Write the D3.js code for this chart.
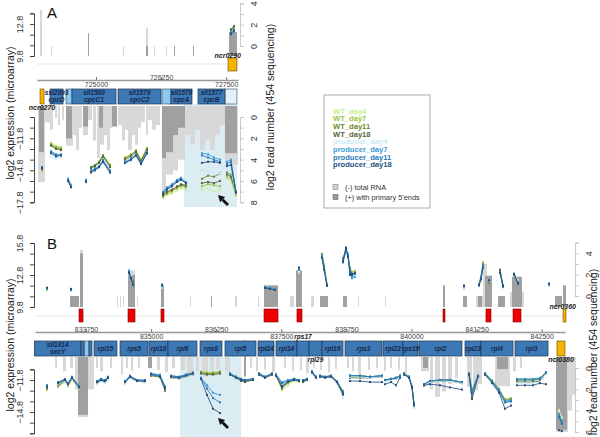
<!DOCTYPE html>
<html><head><meta charset="utf-8">
<script src="https://cdn.jsdelivr.net/npm/d3@7"></script>
<style>body{margin:0;background:#fff}svg{display:block;font-family:"Liberation Sans",Arial,sans-serif}</style>
</head><body><svg id="c" width="600" height="437"></svg>
<script>
// ---------------- DATA ----------------
const seriesNames = ["WT_day4","WT_day7","WT_day11","WT_day18","producer_day4","producer_day7","producer_day11","producer_day18"];
const seriesColors = ["#c8ee88","#9dc43f","#6e8a2c","#55663a","#c9e9f8","#3d9ad9","#2a79ba","#25507e"];
const barTypes = ["(-) total RNA","(+) with primary 5'ends"];

// tick values / labels
const aGenomeTicks = [725000, 726250, 727500];
const bGenomeTicks = [833750, 835000, 836250, 837500, 838750, 840000, 841250, 842500];
const aTopExprTicks = [9.8, 10.8, 11.8, 12.8, 13.8], aTopExprLabels = [9.8, 12.8];
const aTopReadTicks = [0, 1, 2, 3, 4], aTopReadLabels = [0, 2, 4];
const aBotExprTicks = [-9.8, -10.8, -11.8, -12.8, -13.8, -14.8, -15.8, -16.8, -17.8], aBotExprLabels = [-11.8, -14.8, -17.8];
const aBotReadTicks = [0, 1, 2, 3, 4, 5, 6, 7, 8], aBotReadLabels = [0, 2, 4, 6, 8];
const bTopExprTicks = [9.8, 10.8, 11.8, 12.8, 13.8, 14.8, 15.8], bTopExprLabels = [9.8, 12.8, 15.8];
const bTopReadTicks = [0, 1, 2, 3, 4, 5], bTopReadLabels = [0, 2, 4];
const bBotExprTicks = [-10.8, -11.8, -12.8, -13.8, -14.8, -15.8, -16.8], bBotExprLabels = [-11.8, -14.8];
const bBotReadTicks = [0, 1, 2, 3, 4, 5, 6], bBotReadLabels = [0, 2, 4, 6];

// genes [start, end, name, product]
const aGenes = [
 [724117,724367,"ssl2093","cpcD"],
 [724539,725384,"sll1580","cpcC1"],
 [725423,726248,"sll1579","cpcC2"],
 [726440,726843,"sll1578","cpcA"],
 [726959,727477,"sll1577","cpcB"]
];
const aUtrs = [[724424,724539,"light"],[726267,726440,"light"],[727477,727707,"pale"]];
const aOrange = [[723925,724002,"ncr0270","gene"],[727535,727707,"ncr0290","nc"]];
const aRed = [];
const aShade = [726690, 727707];
const aArrow = [727535, -18.06, 727343, -17.12];

const bGenes = [
 [832760,833654,"sll1814","secY"],
 [833654,833712,"",""],
 [833808,833865,"",""],
 [833904,834345,"rpl15",""],
 [834403,834941,"rps5",""],
 [834960,835325,"rpl18",""],
 [835325,835881,"rpl6",""],
 [835939,836361,"rps8",""],
 [836419,837014,"rpl5",""],
 [837053,837360,"rpl24",""],
 [837398,837801,"rpl14",""],
 [837801,838032,"rps17",""],
 [838032,838281,"rpl29",""],
 [838281,838685,"rpl16",""],
 [838723,839433,"rps3",""],
 [839453,839837,"rpl22",""],
 [839837,840125,"rps19",""],
 [840144,840969,"rpl2",""],
 [841027,841334,"rpl23",""],
 [841334,841949,"rpl4",""],
 [841987,842621,"rpl3",""]
];
const bOutsideLabels = {"rps17":"above","rpl29":"below"};
const bUtrs = [[833712,833808,"light"],[836784,836822,"light"]];
const bOrange = [[842793,842947,"ncl0380","gene"],[842909,842966,"ncr0360","nc"]];
const bRed = [[833616,833693],[834557,834691],[835190,835248],[837168,837437],[837801,837897],[840605,840643],[841430,841526],[841949,842102]];
const bShade = [835555, 836726];
const bArrow = [836477, -16.3, 836285, -15.36];

// read coverage bars [start, end, log2 reads, type 0=total 1=primary]
const aTopBars = [
 [723925,723963,3.4,0],[724136,724155,0,0],[724847,724866,1.2,1],[725519,725538,0,0],
 [725960,725999,1.7,0],[725960,725999,0,1],[726114,726133,0,0],[726344,726363,0,0],
 [726498,726517,0,1],[726863,726882,0,1],[727554,727707,1.3,1]
];
const aBotBars = [
 [723887,724021,6.1,0],[723906,724002,3.3,1],[724021,724117,0.5,0],[724117,724175,1.2,0],
 [724213,724251,0.1,0],[724271,724309,0.75,0],[724347,724386,0.3,0],[724424,724559,2.7,0],
 [724424,724539,2.0,1],[724559,724616,1.7,0],[724616,724674,3.1,0],[724674,724731,1.0,0],
 [724751,724847,1.7,0],[724751,724847,0.9,1],[724847,724923,0.3,0],[724943,725000,2.2,0],
 [725019,725077,3.85,0],[725058,725135,1.0,1],[725077,725154,2.6,0],[725154,725211,1.7,0],
 [725211,725269,3.1,0],[725269,725307,1.0,0],[725307,725403,0.9,1],[725423,725499,0.75,0],
 [725499,725557,2.2,0],[725557,725615,1.2,0],[725615,725691,3.1,0],[725691,725749,1.7,0],
 [725749,725807,2.6,0],[725807,725864,1.0,0],[725864,725941,0.5,0],[725960,725999,1.7,0],
 [725999,726075,0.3,0],[726075,726152,1.2,0],[726152,726229,0.75,0],[726267,726344,6.85,0],
 [726267,726344,3.85,1],[726344,726479,5.4,0],[726344,726479,3.3,1],[726479,726575,5.0,0],
 [726479,726575,1.7,1],[726575,726709,4.0,0],[726575,726709,1.0,1],[726709,726805,1.7,0],
 [726805,726901,2.6,0],[726901,726997,1.2,0],[726997,727093,3.1,0],[727093,727189,2.2,0],
 [727189,727285,3.1,0],[727285,727381,1.7,0],[727381,727477,0.75,0],[727477,727727,4.5,0],
 [727477,727707,3.4,1]
];
const bTopBars = [
 [833443,833616,0,1],[833635,833693,4.3,0],[833635,833693,4.0,1],
 [834345,834365,0,0],[834403,834422,0,0],[834461,834480,0,0],[834729,834749,0,0],
 [834557,834691,2.4,0],[834557,834691,1.95,1],[835190,835248,1.0,1],
 [835747,835766,0,0],[836150,836169,0,1],[836611,836649,0,0],[837053,837072,0,0],
 [837168,837437,1.0,1],[837667,837744,0,0],[837782,837897,2.4,1],
 [838070,838128,0,0],[838243,838397,0,1],[838685,838761,0,1],[838973,838992,0,0],[839491,839510,0,0],
 [840605,840643,1.0,1],[840989,841065,0,1],[841238,841545,0,0],[841277,841353,0,1],
 [841373,841449,3.0,0],[841411,841545,1.9,1],[841661,841795,0,1],
 [841891,842160,0.4,0],[841929,842121,1.8,1],[842755,842889,0,1],[842909,842966,1.0,1]
];
const bBotBars = [
 [833155,833193,0,0],[833309,833366,0.3,0],[833443,833501,0,0],
 [833539,833904,2.0,0],[833597,833789,4.6,0],[833597,833789,4.4,1],
 [833942,833981,0,0],[834019,834077,0.3,0],[834211,834249,0,0],[834422,834461,0.6,0],
 [834518,834557,0,0],[834614,834653,0.3,0],[834749,834787,0,0],[834941,835017,0,1],
 [835113,835171,0.2,0],[835267,835325,0.4,0],[835401,835459,0,0],[835574,835651,0.2,0],
 [835689,835805,0.5,0],[835862,835920,0.3,0],[835977,836093,0.8,0],[836131,836208,0.3,0],
 [836246,836323,0.1,0],[836419,836515,0.3,0],[836784,836822,0.8,1],[836899,836937,0,0],
 [837014,837053,0.3,0],[837168,837206,0.2,0],[837321,837379,0.4,0],[837552,837590,0,0],
 [837705,837744,0.3,0],[837859,837897,0.2,0],[837974,838032,0.5,0],[838109,838147,0,0],
 [838243,838281,0.2,0],[838397,838435,0.4,0],[838531,838569,0.1,0],[838761,838800,0,0],
 [838857,838896,0.3,0],[838973,839030,0.5,0],[839165,839203,0.2,0],[839318,839357,0,0],
 [839472,839510,0.3,0],[839587,839625,0,0],[839741,839779,0.2,0],[839875,839913,0.5,0],
 [840182,840336,0.3,0],[840221,840317,0,1],[840355,840413,2.0,0],[840451,840547,2.7,0],
 [840585,840662,2.2,0],[840701,840777,1.5,0],[840835,840893,1.0,0],[841065,841161,1.8,0],
 [841181,841277,2.1,0],[841277,841353,1.5,0],[841603,841891,1.7,0],[841641,841853,0.1,1],
 [841949,842006,0.3,0],[842083,842121,0,0],[842774,843005,6.0,0],[842774,842985,5.8,1],
 [843005,843081,4.0,0],[843081,843158,2.5,0]
];

// microarray probes [group, position, WT4, WT7, WT11, WT18, P4, P7, P11, P18]
const aTopExpr = [
 [1,727592,12.0,12.1,12.2,12.3,11.9,12.0,11.8,11.9],
 [1,727650,12.4,12.5,12.6,12.6,12.2,12.3,12.1,12.2]
];
const aBotExpr = [
 [1,723963,-14.9,-14.8,-14.7,-14.6,-14.4,-14.5,-14.5,-14.6],
 [2,724136,-12.2,-12.3,-12.4,-12.5,-13.5,-13.0,-13.1,-13.2],
 [2,724232,-12.5,-12.6,-12.7,-12.8,-13.7,-13.3,-13.4,-13.5],
 [2,724328,-12.6,-12.7,-12.8,-12.9,-13.6,-13.3,-13.4,-13.4],
 [3,724463,-15.6,-15.6,-15.7,-15.7,-15.5,-15.6,-15.7,-15.8],
 [3,724520,-16.2,-16.2,-16.3,-16.3,-16.1,-16.2,-16.3,-16.4],
 [4,724808,-15.7,-15.8,-15.8,-15.9,-15.6,-15.7,-15.8,-15.9],
 [5,724904,-14.6,-14.5,-14.5,-14.6,-15.0,-14.8,-14.9,-15.0],
 [5,724981,-14.4,-14.3,-14.3,-14.4,-14.8,-14.6,-14.7,-14.8],
 [5,725058,-14.1,-14.0,-14.0,-14.1,-14.6,-14.4,-14.5,-14.5],
 [5,725135,-13.5,-13.4,-13.4,-13.5,-14.1,-13.8,-13.9,-14.0],
 [5,725269,-14.4,-14.3,-14.3,-14.5,-15.1,-14.8,-14.9,-15.0],
 [6,725557,-13.6,-13.6,-13.7,-13.8,-14.2,-14.0,-14.1,-14.1],
 [6,725672,-13.3,-13.3,-13.4,-13.5,-13.9,-13.7,-13.8,-13.8],
 [6,725768,-13.0,-12.9,-13.0,-13.1,-13.5,-13.3,-13.4,-13.4],
 [6,725864,-13.9,-13.8,-13.9,-14.0,-14.3,-14.1,-14.2,-14.2],
 [6,725979,-12.8,-12.7,-12.8,-12.9,-13.3,-13.1,-13.2,-13.2],
 [7,726287,-17.4,-17.3,-17.2,-17.1,-16.9,-16.8,-16.9,-17.0],
 [7,726363,-17.1,-17.0,-16.9,-16.8,-16.5,-16.4,-16.5,-16.6],
 [7,726459,-17.0,-16.8,-16.7,-16.6,-16.3,-16.1,-16.2,-16.3],
 [7,726555,-16.7,-16.5,-16.4,-16.3,-15.9,-15.7,-15.8,-15.9],
 [7,726632,-16.5,-16.3,-16.2,-16.1,-15.7,-15.5,-15.6,-15.7],
 [7,726728,-16.6,-16.4,-16.3,-16.2,-16.0,-15.9,-16.0,-16.0],
 [8,727035,-16.65,-16.3,-15.6,-16.0,-14.8,-13.2,-13.4,-14.1],
 [8,727151,-16.5,-16.1,-15.3,-15.9,-14.9,-13.3,-13.6,-14.0],
 [8,727266,-16.8,-16.2,-15.4,-16.0,-15.0,-13.6,-13.8,-14.0],
 [8,727381,-16.6,-16.3,-15.1,-15.8,-15.1,-13.8,-14.0,-14.1],
 [9,727515,-15.6,-15.4,-15.0,-15.2,-14.6,-14.0,-14.2,-14.4],
 [9,727592,-15.9,-15.6,-15.2,-15.4,-14.8,-13.8,-14.0,-14.3],
 [9,727688,-17.2,-17.1,-17.0,-16.9,-17.0,-16.9,-16.8,-16.9]
];
const bTopExpr = [
 [1,833001,11.4,11.4,11.5,11.5,11.5,11.5,11.6,11.6],
 [2,833462,11.3,11.3,11.4,11.4,11.3,11.4,11.4,11.5],
 [3,834576,13.2,13.1,13.0,13.0,13.3,13.2,13.1,13.0],
 [3,834614,12.6,12.5,12.6,12.7,12.8,12.6,12.5,12.5],
 [3,834653,12.0,11.9,12.1,12.2,11.9,11.8,11.9,11.9],
 [4,835209,11.6,11.7,11.7,11.8,11.7,11.8,11.8,11.9],
 [5,837187,11.7,11.7,11.6,11.6,11.8,11.7,11.6,11.6],
 [5,837283,11.6,11.6,11.6,11.6,11.6,11.6,11.5,11.5],
 [5,837379,11.5,11.5,11.5,11.5,11.5,11.5,11.4,11.4],
 [6,837840,13.0,13.1,13.2,13.2,13.1,13.3,13.4,13.5],
 [7,838281,14.5,14.8,14.7,14.6,14.4,14.6,14.5,14.4],
 [7,838320,13.5,13.8,13.6,13.5,13.4,13.6,13.5,13.3],
 [7,838377,11.9,12.0,11.9,11.8,11.9,11.9,11.8,11.8],
 [8,838685,14.0,14.3,14.4,14.2,13.9,14.1,14.2,14.0],
 [8,838742,15.2,15.0,15.1,15.3,14.9,15.0,15.4,15.3],
 [8,838781,14.6,14.5,14.4,14.5,14.3,14.8,14.6,14.5],
 [8,838819,13.2,13.5,13.4,13.3,12.9,13.2,13.0,12.8],
 [8,838857,13.0,13.1,12.8,12.9,12.6,12.5,12.7,12.9],
 [8,838915,13.1,13.2,13.0,12.9,12.8,12.6,12.9,13.0],
 [9,841008,11.5,11.6,11.7,11.8,11.6,11.7,11.8,11.8],
 [10,841296,11.8,11.9,11.9,11.8,11.8,11.9,11.8,11.9],
 [10,841334,12.5,12.7,12.6,12.4,12.5,12.6,12.5,12.4],
 [10,841373,13.5,14.0,13.8,13.6,13.6,13.8,13.7,13.5],
 [11,841488,12.2,12.2,12.1,12.1,12.2,12.3,12.3,12.3],
 [12,841699,13.0,13.1,13.2,13.3,12.9,13.0,13.1,13.0],
 [12,841757,11.7,11.7,11.8,11.8,11.6,11.7,11.7,11.8],
 [13,841968,12.9,12.9,12.8,12.8,13.0,12.9,12.9,12.9],
 [13,842045,12.2,12.2,12.1,12.1,12.3,12.1,12.0,12.0],
 [14,842640,11.8,11.8,11.9,11.9,11.8,11.9,11.9,12.0]
];
const bBotExpr = [
 [1,833001,-12.6,-12.7,-12.6,-12.5,-12.3,-12.4,-12.3,-12.4],
 [2,833213,-12.5,-12.4,-12.3,-12.3,-12.2,-12.1,-12.0,-12.1],
 [2,833347,-12.0,-11.9,-11.8,-11.9,-11.9,-11.8,-11.7,-11.8],
 [2,833405,-12.4,-12.3,-12.2,-12.3,-12.3,-12.2,-12.1,-12.2],
 [2,833481,-11.8,-11.7,-11.6,-11.7,-11.7,-11.6,-11.5,-11.6],
 [2,833616,-12.6,-12.5,-12.4,-12.5,-12.5,-12.4,-12.4,-12.5],
 [3,833961,-12.2,-12.1,-12.0,-12.1,-12.2,-12.0,-11.9,-12.0],
 [3,834038,-11.9,-11.8,-11.8,-11.9,-11.9,-11.7,-11.7,-11.8],
 [3,834115,-12.1,-12.0,-11.9,-12.0,-12.1,-11.9,-11.8,-11.9],
 [3,834173,-11.7,-11.7,-11.6,-11.7,-11.8,-11.6,-11.5,-11.6],
 [4,834499,-12.1,-12.0,-12.0,-12.1,-12.1,-12.0,-11.9,-12.0],
 [4,834595,-11.6,-11.5,-11.5,-11.6,-11.6,-11.5,-11.4,-11.5],
 [4,834729,-11.9,-11.9,-11.8,-11.9,-11.9,-11.8,-11.8,-11.9],
 [4,834883,-12.0,-11.9,-11.9,-12.0,-12.0,-11.9,-11.8,-11.9],
 [5,834998,-11.4,-11.3,-11.3,-11.4,-11.3,-11.2,-11.2,-11.3],
 [5,835171,-11.6,-11.5,-11.4,-11.5,-11.5,-11.3,-11.4,-11.5],
 [5,835267,-12.7,-12.6,-12.5,-12.8,-12.6,-12.5,-12.4,-12.6],
 [6,835382,-11.6,-11.5,-11.5,-11.6,-11.6,-11.4,-11.4,-11.5],
 [6,835536,-11.7,-11.6,-11.6,-11.7,-11.7,-11.5,-11.5,-11.6],
 [6,835670,-11.5,-11.4,-11.4,-11.5,-11.5,-11.3,-11.3,-11.4],
 [6,835805,-11.3,-11.2,-11.2,-11.3,-11.3,-11.2,-11.1,-11.2],
 [7,835958,-11.1,-11.0,-11.1,-11.2,-11.5,-11.6,-11.6,-11.7],
 [7,836073,-11.2,-11.1,-11.2,-11.3,-12.1,-12.3,-12.6,-13.2],
 [7,836189,-11.2,-11.1,-11.2,-11.3,-12.4,-13.0,-13.5,-14.5],
 [7,836323,-11.0,-11.0,-11.1,-11.2,-12.6,-13.2,-13.9,-14.9],
 [8,836515,-11.3,-11.3,-11.2,-11.3,-11.3,-11.2,-11.2,-11.3],
 [8,836630,-11.5,-11.6,-11.5,-11.6,-11.6,-11.5,-11.5,-11.6],
 [8,836726,-11.7,-11.8,-11.7,-11.9,-11.8,-11.7,-11.7,-11.8],
 [8,836803,-11.8,-11.9,-11.8,-12.0,-11.9,-11.8,-11.8,-11.9],
 [8,836957,-11.7,-11.8,-11.7,-11.8,-11.8,-11.7,-11.7,-11.8],
 [9,837072,-11.3,-11.2,-11.2,-11.3,-11.3,-11.2,-11.2,-11.3],
 [9,837187,-11.6,-11.5,-11.5,-11.6,-11.6,-11.5,-11.5,-11.6],
 [9,837321,-11.3,-11.2,-11.2,-11.3,-11.3,-11.2,-11.2,-11.3],
 [10,837398,-11.4,-11.3,-11.3,-11.4,-11.4,-11.3,-11.3,-11.4],
 [10,837513,-12.8,-12.5,-12.3,-12.6,-12.2,-12.0,-12.1,-12.4],
 [10,837629,-12.3,-12.1,-11.9,-12.0,-11.9,-11.8,-11.9,-12.0],
 [10,837744,-11.9,-11.8,-11.7,-11.8,-11.8,-11.7,-11.7,-11.8],
 [10,837840,-12.0,-11.9,-11.8,-11.9,-11.9,-11.8,-11.8,-11.9],
 [11,837917,-12.0,-11.9,-11.9,-12.0,-11.9,-11.8,-11.8,-11.9],
 [11,837993,-11.8,-11.7,-11.7,-11.8,-11.8,-11.7,-11.7,-11.8],
 [12,838089,-11.1,-11.0,-11.0,-11.1,-11.1,-11.0,-11.0,-11.1],
 [12,838166,-11.6,-11.5,-11.5,-11.6,-11.6,-11.5,-11.5,-11.6],
 [13,838243,-11.5,-11.5,-11.4,-11.5,-11.5,-11.4,-11.4,-11.5],
 [13,838339,-11.6,-11.6,-11.5,-11.6,-11.6,-11.5,-11.5,-11.6],
 [13,838454,-11.5,-11.5,-11.4,-11.5,-11.5,-11.4,-11.4,-11.5],
 [13,838569,-12.0,-12.0,-11.9,-12.1,-12.1,-11.9,-12.0,-12.0],
 [13,838685,-13.0,-12.8,-12.9,-13.2,-13.5,-12.9,-13.0,-13.1],
 [14,838819,-11.5,-11.4,-11.4,-11.6,-11.5,-11.4,-11.4,-11.9],
 [14,839011,-11.5,-11.4,-11.4,-11.6,-11.5,-11.4,-11.4,-11.9],
 [14,839203,-11.6,-11.5,-11.5,-11.6,-11.6,-11.5,-11.5,-12.0],
 [14,839433,-11.5,-11.4,-11.4,-11.5,-11.5,-11.4,-11.4,-12.0],
 [15,839491,-11.9,-11.8,-11.8,-11.9,-11.9,-11.8,-11.8,-12.2],
 [15,839606,-11.8,-11.7,-11.7,-11.8,-11.8,-11.7,-11.7,-12.0],
 [15,839702,-11.7,-11.6,-11.6,-11.7,-11.7,-11.6,-11.6,-12.3],
 [15,839779,-11.5,-11.4,-11.4,-11.5,-11.5,-11.4,-11.4,-11.6],
 [16,839856,-11.3,-11.2,-11.2,-11.3,-11.3,-11.2,-11.2,-11.3],
 [16,839952,-11.6,-11.5,-11.5,-11.6,-11.6,-11.5,-11.5,-11.6],
 [16,840009,-12.5,-12.4,-12.4,-12.5,-12.4,-12.4,-12.4,-12.5],
 [16,840048,-14.4,-14.2,-14.1,-14.0,-14.3,-14.1,-14.0,-14.2],
 [17,840240,-12.3,-12.2,-12.2,-12.3,-12.3,-12.2,-12.2,-12.3],
 [17,840355,-12.0,-11.9,-11.9,-12.0,-12.0,-11.9,-11.9,-12.2],
 [17,840547,-11.9,-11.8,-11.8,-11.9,-11.9,-11.8,-11.8,-12.3],
 [17,840739,-11.9,-11.8,-11.8,-11.9,-11.9,-11.8,-11.8,-12.5],
 [17,840969,-12.1,-12.0,-12.0,-12.1,-12.1,-12.0,-12.0,-12.7],
 [18,841104,-11.3,-11.2,-11.2,-11.3,-11.3,-11.2,-11.2,-11.3],
 [18,841161,-13.0,-12.7,-13.2,-13.6,-13.4,-12.8,-13.0,-13.5],
 [18,841277,-11.5,-11.4,-11.4,-11.5,-11.5,-11.4,-11.4,-11.5],
 [19,841411,-11.3,-11.2,-11.2,-11.3,-11.3,-11.2,-11.2,-11.3],
 [19,841545,-12.0,-11.8,-11.9,-12.0,-12.0,-11.9,-11.9,-12.1],
 [19,841680,-12.8,-12.6,-12.7,-12.9,-12.9,-12.7,-12.8,-13.0],
 [19,841795,-13.8,-13.6,-13.7,-13.9,-14.0,-13.8,-13.9,-14.5],
 [19,841910,-13.7,-13.5,-13.6,-13.8,-13.9,-13.7,-13.8,-14.2],
 [20,842025,-11.9,-11.7,-11.8,-12.0,-12.1,-11.7,-11.8,-12.3],
 [20,842179,-11.9,-11.7,-11.8,-12.0,-12.1,-11.7,-11.8,-12.3],
 [20,842333,-11.9,-11.7,-11.8,-12.0,-12.1,-11.7,-11.8,-12.3],
 [20,842467,-11.8,-11.6,-11.7,-11.9,-12.0,-11.6,-11.7,-12.1],
 [20,842582,-11.2,-11.1,-11.1,-11.2,-11.2,-11.1,-11.1,-12.2],
 [21,842832,-14.6,-14.8,-15.0,-15.2,-14.7,-15.0,-15.3,-16.5],
 [21,842889,-15.3,-15.5,-15.7,-15.9,-15.4,-15.6,-15.9,-16.6]
];

// ---------------- LAYOUT ----------------
const svg = d3.select("#c");
const LIGHT = "#d8d8d8", DARK = "#a0a0a0";
const GENE_FILL = "#3c78b4", GENE_TXT = "#14264a";
const UTR_FILL = {light:"#8cc8f0", pale:"#e3f1fb"};

const cfgA = {
  domain:[723867,727727], x0:37, x1:238, leftX:34, rightX:240,
  topE:[9.8,13.8], topER:[56,13.3], topETicks:aTopExprTicks, topELabels:aTopExprLabels,
  topR:[0,4], topRR:[46,3.3], topRTicks:aTopReadTicks, topRLabels:aTopReadLabels,
  topBase:56, ncRow:[58,71], ncLine:64, axisY:80, geneRow:[89,104], botBase:106,
  botE:[-9.8,-17.8], botER:[117,202.3], botETicks:aBotExprTicks, botELabels:aBotExprLabels,
  botR:[0,8], botRR:[117,202.3], botRTicks:aBotReadTicks, botRLabels:aBotReadLabels,
  shadeY:[104,207], label:"A", labelY:18, titleLY:113, titleRX:270, titleRY:107,
  genomeTicks:aGenomeTicks, genes:aGenes, utrs:aUtrs, orange:aOrange, red:aRed,
  shade:aShade, arrow:aArrow, topBars:aTopBars, botBars:aBotBars, topExpr:aTopExpr, botExpr:aBotExpr, outside:{}
};
const cfgB = {
  domain:[832771,842947], x0:35, x1:565, leftX:34, rightX:575,
  topE:[9.8,15.8], topER:[307,243], topETicks:bTopExprTicks, topELabels:bTopExprLabels,
  topR:[0,5], topRR:[296,242.6], topRTicks:bTopReadTicks, topRLabels:bTopReadLabels,
  topBase:307, ncRow:[309,322], ncLine:316, axisY:332, geneRow:[341,356], botBase:357,
  botE:[-10.8,-16.8], botER:[369.3,433.3], botETicks:bBotExprTicks, botELabels:bBotExprLabels,
  botR:[0,6], botRR:[368,432], botRTicks:bBotReadTicks, botRLabels:bBotReadLabels,
  shadeY:[356,437], label:"B", labelY:249, titleLY:345, titleRX:593, titleRY:352,
  genomeTicks:bGenomeTicks, genes:bGenes, utrs:bUtrs, orange:bOrange, red:bRed,
  shade:bShade, arrow:bArrow, topBars:bTopBars, botBars:bBotBars, topExpr:bTopExpr, botExpr:bBotExpr, outside:bOutsideLabels
};

function yAxis(g, scale, side, xPos, ticks, labels, fmt, stroke) {
  const ax = (side === "left" ? d3.axisLeft(scale) : d3.axisRight(scale))
    .tickValues(ticks).tickSizeOuter(0).tickSize(4)
    .tickFormat(d => labels.includes(d) ? fmt(d) : "");
  const a = g.append("g").attr("transform", `translate(${xPos},0)`).call(ax);
  a.select(".domain").attr("stroke", stroke).attr("stroke-width", 0.9);
  a.selectAll(".tick line").attr("stroke", stroke).attr("stroke-width", 0.9);
  a.selectAll(".tick text")
    .attr("transform", "rotate(-90)").attr("x", 0).attr("dy", null)
    .attr("y", side === "left" ? -11 : 17)
    .attr("text-anchor", "middle").attr("fill", "#333")
    .style("font-size", "9px").style("font-family", "Liberation Sans, Arial, sans-serif");
}

function drawPanel(c) {
  const g = svg.append("g");
  const x = d3.scaleLinear().domain(c.domain).range([c.x0, c.x1]);
  const yTE = d3.scaleLinear().domain(c.topE).range(c.topER);
  const yTR = d3.scaleLinear().domain(c.topR).range(c.topRR);
  const yBE = d3.scaleLinear().domain(c.botE).range(c.botER);
  const yBR = d3.scaleLinear().domain(c.botR).range(c.botRR);

  g.append("rect").attr("x", x(c.shade[0])).attr("width", x(c.shade[1]) - x(c.shade[0]))
    .attr("y", c.shadeY[0]).attr("height", c.shadeY[1] - c.shadeY[0]).attr("fill", "#dbecf2");

  g.append("line").attr("x1", c.x0).attr("x2", c.x1).attr("y1", c.ncLine).attr("y2", c.ncLine)
    .attr("stroke", "#e4e4e4").attr("stroke-width", 1);

  [0, 1].forEach(t => {
    g.append("g").selectAll("rect").data(c.topBars.filter(b => b[3] === t)).join("rect")
      .attr("x", b => x(b[0])).attr("width", b => Math.max(1, x(b[1]) - x(b[0])))
      .attr("y", b => yTR(b[2])).attr("height", b => c.topBase - yTR(b[2]))
      .attr("fill", t ? DARK : LIGHT);
    g.append("g").selectAll("rect").data(c.botBars.filter(b => b[3] === t)).join("rect")
      .attr("x", b => x(b[0])).attr("width", b => Math.max(1, x(b[1]) - x(b[0])))
      .attr("y", c.botBase).attr("height", b => yBR(b[2]) - c.botBase)
      .attr("fill", t ? DARK : LIGHT);
  });

  function expr(data, yS) {
    const groups = d3.groups(data, d => d[0]);
    seriesNames.forEach((s, i) => {
      const line = d3.line().x(d => x(d[1])).y(d => yS(d[2 + i]));
      groups.forEach(([k, pts]) => {
        if (pts.length > 1)
          g.append("path").attr("d", line(pts)).attr("fill", "none")
            .attr("stroke", seriesColors[i]).attr("stroke-width", 0.85);
      });
      g.append("g").selectAll("rect").data(data).join("rect")
        .attr("x", d => x(d[1]) - 1).attr("y", d => yS(d[2 + i]) - 1)
        .attr("width", 2).attr("height", 2).attr("fill", seriesColors[i]);
    });
  }
  expr(c.topExpr, yTE);
  expr(c.botExpr, yBE);

  g.append("g").selectAll("rect").data(c.red).join("rect")
    .attr("x", d => x(d[0])).attr("width", d => x(d[1]) - x(d[0]))
    .attr("y", c.ncRow[0]).attr("height", c.ncRow[1] - c.ncRow[0])
    .attr("fill", "#ee0000").attr("stroke", "#7a0000").attr("stroke-width", 0.6);

  c.orange.forEach(o => {
    const row = o[3] === "gene" ? c.geneRow : c.ncRow;
    g.append("rect").attr("x", x(o[0])).attr("width", x(o[1]) - x(o[0]))
      .attr("y", row[0]).attr("height", row[1] - row[0])
      .attr("fill", "#f5b400").attr("stroke", "#6a4a00").attr("stroke-width", 0.6);
    const t = g.append("text").text(o[2]).attr("text-anchor", "middle")
      .attr("font-size", 7).attr("font-style", "italic").attr("font-weight", "bold").attr("fill", "#222");
    let cx = (x(o[0]) + x(o[1])) / 2;
    const w = t.node().getComputedTextLength();
    if (cx + w / 2 > c.rightX + 1) cx = c.rightX + 1 - w / 2;
    t.attr("x", cx).attr("y", o[3] === "gene" ? row[1] + 5.5 : row[0]);
  });

  const ax = d3.axisTop(x).tickValues(c.genomeTicks).tickSize(3).tickSizeOuter(0).tickFormat(d3.format("d"));
  const ga = g.append("g").attr("transform", `translate(0,${c.axisY})`).call(ax);
  ga.select(".domain").attr("stroke", "#999").attr("stroke-width", 1.5);
  ga.selectAll(".tick line").attr("stroke", "#777");
  ga.selectAll(".tick text").attr("dy", null)
    .attr("y", d => d % 2500 === 0 ? 6.5 : -0.5)
    .attr("fill", "#444").style("font-size", "7px")
    .style("font-family", "Liberation Sans, Arial, sans-serif");

  const gr = c.geneRow;
  g.append("g").selectAll("rect").data(c.utrs).join("rect")
    .attr("x", d => x(d[0])).attr("width", d => x(d[1]) - x(d[0]))
    .attr("y", gr[0]).attr("height", gr[1] - gr[0])
    .attr("fill", d => UTR_FILL[d[2]]).attr("stroke", "#33465e").attr("stroke-width", 0.6);
  g.append("g").selectAll("rect").data(c.genes).join("rect")
    .attr("x", d => x(d[0])).attr("width", d => x(d[1]) - x(d[0]))
    .attr("y", gr[0]).attr("height", gr[1] - gr[0])
    .attr("fill", GENE_FILL).attr("stroke", "#1f3550").attr("stroke-width", 0.7);
  c.genes.forEach(d => {
    if (!d[2]) return;
    const cx = (x(d[0]) + x(d[1])) / 2;
    const pos = c.outside[d[2]];
    const t = g.append("text").attr("x", cx).attr("text-anchor", "middle")
      .attr("font-size", 6.5).attr("font-style", "italic").attr("font-weight", "bold").attr("fill", pos ? "#222" : GENE_TXT);
    if (pos === "above") t.attr("y", gr[0] - 2).text(d[2]);
    else if (pos === "below") t.attr("y", gr[1] + 6).text(d[2]);
    else if (d[3]) {
      t.append("tspan").attr("x", cx).attr("y", gr[0] + 6.3).text(d[2]);
      t.append("tspan").attr("x", cx).attr("y", gr[0] + 12.6).text(d[3]);
    } else t.attr("y", gr[0] + 10).text(d[2]);
  });

  const f1 = d3.format(".1f"), f0 = d3.format("d");
  yAxis(g, yTE, "left", c.leftX, c.topETicks, c.topELabels, f1, "#333");
  yAxis(g, yBE, "left", c.leftX, c.botETicks, c.botELabels, f1, "#333");
  yAxis(g, yTR, "right", c.rightX, c.topRTicks, c.topRLabels, f0, "#c4c4c4");
  yAxis(g, yBR, "right", c.rightX, c.botRTicks, c.botRLabels, f0, "#c4c4c4");

  const x1 = x(c.arrow[0]), y1 = yBE(c.arrow[1]), x2 = x(c.arrow[2]), y2 = yBE(c.arrow[3]);
  const ang = Math.atan2(y2 - y1, x2 - x1), L = 6.5, W = 3.6;
  const bx = x2 - L * Math.cos(ang), by = y2 - L * Math.sin(ang);
  g.append("line").attr("x1", x1).attr("y1", y1).attr("x2", bx).attr("y2", by)
    .attr("stroke", "#111").attr("stroke-width", 2.8);
  g.append("path").attr("d", `M${x2},${y2}L${bx - W * Math.sin(ang)},${by + W * Math.cos(ang)}L${bx + W * Math.sin(ang)},${by - W * Math.cos(ang)}Z`)
    .attr("fill", "#111");

  g.append("text").attr("x", 47).attr("y", c.labelY).text(c.label).attr("font-size", 15).attr("fill", "#111");
  g.append("text").attr("transform", `translate(10,${c.titleLY}) rotate(-90)`).attr("text-anchor", "middle")
    .attr("dominant-baseline", "central").attr("font-size", 10.5).attr("fill", "#222").text("log2 expression (microarray)");
  g.append("text").attr("transform", `translate(${c.titleRX},${c.titleRY}) rotate(-90)`).attr("text-anchor", "middle")
    .attr("dominant-baseline", "central").attr("font-size", 10.5).attr("fill", "#222").text("log2 read number (454 sequencing)");
}
drawPanel(cfgA);
drawPanel(cfgB);

const lg = svg.append("g");
lg.append("rect").attr("x", 324).attr("y", 95).attr("width", 106).attr("height", 113)
  .attr("fill", "#fff").attr("stroke", "#999").attr("stroke-width", 0.8);
lg.selectAll("text.s").data(seriesNames).join("text").attr("class", "s")
  .attr("x", 333).attr("y", (d, i) => 113.5 + i * 7.7).text(d => d)
  .attr("fill", (d, i) => seriesColors[i]).attr("font-size", 7.6).attr("font-weight", "bold");
lg.selectAll("rect.b").data(barTypes).join("rect").attr("class", "b")
  .attr("x", 333).attr("y", (d, i) => 184.5 + i * 10).attr("width", 5).attr("height", 5)
  .attr("fill", (d, i) => i ? "#9a9a9a" : "#d0d0d0").attr("stroke", (d, i) => i ? "#666" : "#888").attr("stroke-width", 0.6);
lg.selectAll("text.b").data(barTypes).join("text").attr("class", "b")
  .attr("x", 345).attr("y", (d, i) => 189.5 + i * 10).text(d => d)
  .attr("fill", "#333").attr("font-size", 7.4);
</script></body></html>
